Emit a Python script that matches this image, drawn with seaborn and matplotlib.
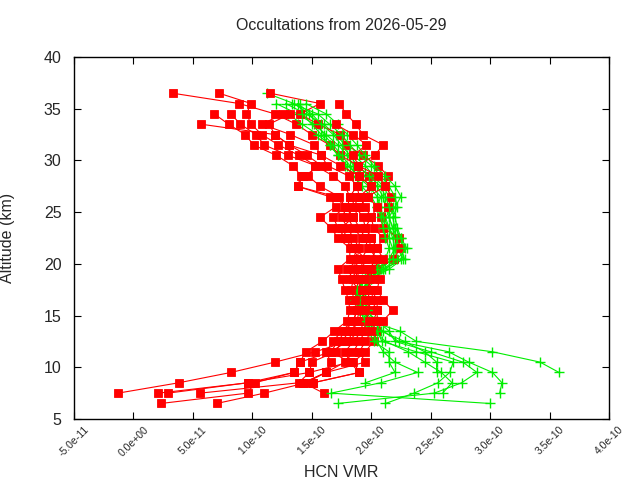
import numpy as np
import pandas as pd
import matplotlib
matplotlib.use("Agg")
import matplotlib.pyplot as plt
import seaborn as sns
from matplotlib.ticker import FixedLocator, FuncFormatter

# ---------------- data ----------------
nan = np.nan
ALTITUDES = [36.5, 35.5, 34.5, 33.5, 32.5, 31.5, 30.5, 29.5, 28.5, 27.5, 26.5,
             25.5, 24.5, 23.5, 22.5, 21.5, 20.5, 19.5, 18.5, 17.5, 16.5, 15.5,
             14.5, 13.5, 12.5, 11.5, 10.5, 9.5, 8.5, 7.5, 6.5]
SCALE = 1e-10  # values below are HCN VMR in units of 1e-10

red_profiles = [
    [0.33, 0.89, 1.19, 1.37, 1.50, 1.65, 1.74, 1.89, 1.98, 2.00, 1.97, 1.90, 1.85, 1.90, 1.95, 1.97, 1.92, 1.95, 1.98, 1.93, 1.97, 2.00, 1.95, 1.90, 1.80, 1.53, 1.19, 0.82, 0.38, -0.13, nan],
    [0.72, 0.99, 0.95, 0.99, 1.08, 1.22, 1.39, 1.53, 1.68, 1.78, 1.82, 1.80, 1.75, 1.80, 1.85, 1.90, 1.88, 1.85, 1.90, 1.87, 1.90, 1.88, 1.85, 1.78, 1.72, 1.66, 1.40, 1.35, 0.96, 0.21, nan],
    [1.15, 1.57, 1.40, 1.55, 1.74, 1.79, 1.93, 2.06, 2.14, 2.12, 2.17, 2.14, 2.08, 2.10, 2.23, 2.24, 2.19, 2.05, 2.07, 2.05, 2.10, 2.18, 2.10, 2.05, 2.02, 1.95, 1.85, 1.90, 1.51, nan, nan],
    [nan, 1.73, 1.79, 1.87, 1.93, 2.10, 2.03, 1.89, 1.90, 1.88, 1.90, 1.95, 2.00, 2.02, 2.10, 2.05, 2.00, 2.02, 1.95, 2.00, 2.05, 2.05, 2.02, 1.95, 1.90, 1.85, 1.78, 1.62, 1.43, 1.60, nan],
    [nan, nan, 0.68, 0.80, 0.94, 1.01, 1.20, 1.34, 1.41, 1.38, 1.65, 1.70, 1.57, 1.66, 1.72, 1.82, 1.82, 1.72, 1.75, 1.78, 1.81, 1.82, 1.80, 1.69, 1.59, 1.45, 1.40, 1.35, 1.02, 0.96, 0.23],
    [nan, nan, 0.82, 0.90, 1.03, 1.10, 1.30, 1.53, 1.47, 1.57, 1.73, 1.78, 1.85, 1.75, 1.80, 1.86, 1.95, 1.90, 1.82, 1.90, 1.85, 1.92, 1.90, 1.82, 1.75, 1.70, 1.50, 1.48, 1.39, 0.56, nan],
    [nan, nan, nan, 0.57, 1.19, 1.31, 1.46, 1.58, 1.43, 1.38, 1.70, 1.78, 1.68, 1.72, 1.78, 1.84, 1.90, 1.80, 1.85, 1.83, 1.86, 1.88, 1.85, 1.75, 1.68, 1.62, 1.66, 1.62, 1.45, 1.10, 0.70],
    [nan, nan, 1.26, 1.08, 1.32, 1.52, 1.58, 1.63, 1.81, 1.88, 1.82, 1.87, 1.93, 1.95, 2.00, 1.98, 2.05, 1.98, 2.02, 1.95, 2.00, 1.95, 1.98, 1.92, 1.85, 1.78, 1.82, 1.90, 1.51, nan, nan],
    [nan, nan, 1.32, 1.14, 1.19, 1.31, 1.58, 1.74, 1.90, 2.00, 1.90, 1.85, 1.80, 1.85, 1.92, 1.88, 1.85, 1.90, 1.88, 1.92, 1.95, 1.90, 1.88, 1.85, 1.80, 1.66, 1.82, 1.48, 0.96, 0.29, nan],
    [nan, nan, nan, 1.70, 1.85, 1.96, 1.85, 1.89, 2.06, 2.12, 1.97, 2.05, 2.00, 1.95, 2.00, 2.05, 2.10, 2.00, 1.95, 2.02, 2.00, 2.05, 2.05, 2.00, 1.95, 1.90, 1.95, 1.62, 1.43, nan, nan],
]

green_profiles = [
    [nan, 1.20, 1.38, 1.52, 1.62, 1.72, 1.80, 1.85, 1.95, 2.05, 2.10, 2.12, 2.15, 2.18, 2.20, 2.22, 2.27, 2.15, 2.00, 1.92, 1.90, 1.93, 1.98, 2.24, 2.38, 3.02, 3.42, 3.58, nan, nan, nan],
    [nan, 1.28, 1.45, 1.60, 1.70, 1.78, 1.85, 1.95, 2.02, 2.10, 2.15, 2.18, 2.12, 2.15, 2.20, 2.25, 2.28, 2.10, 1.95, 1.88, 1.88, 1.92, 2.00, 2.10, 2.23, 2.65, 2.82, 3.02, 3.10, 3.08, nan],
    [1.12, 1.35, 1.48, 1.55, 1.60, 1.68, 1.75, 1.82, 1.88, 1.98, 2.05, 2.08, 2.10, 2.12, 2.15, 2.18, 2.20, 2.05, 1.92, 1.90, 1.92, 1.95, 2.05, 2.15, 2.20, 2.50, 2.77, 2.89, 2.76, 2.53, 1.72],
    [nan, 1.40, 1.42, 1.50, 1.58, 1.65, 1.72, 1.80, 1.90, 2.00, 2.08, 2.05, 2.10, 2.15, 2.18, 2.20, 2.18, 2.08, 1.98, 1.92, 1.88, 1.90, 1.95, 2.05, 2.09, 2.38, 2.69, 2.66, 2.56, 2.36, 2.12],
    [nan, 1.33, 1.55, 1.65, 1.75, 1.82, 1.90, 2.00, 2.08, 2.15, 2.20, 2.22, 2.18, 2.20, 2.25, 2.28, 2.25, 2.12, 2.00, 1.95, 1.92, 1.95, 1.98, 2.02, 2.12, 2.31, 2.45, 2.59, 2.68, 2.60, nan],
    [nan, 1.45, 1.62, 1.72, 1.80, 1.88, 1.95, 2.02, 2.12, 2.20, 2.25, 2.20, 2.15, 2.18, 2.22, 2.20, 2.15, 2.05, 1.95, 1.90, 1.90, 1.92, 1.96, 2.00, 2.05, 2.10, 2.20, 2.39, 2.08, 1.66, 3.00],
    [nan, nan, 1.30, 1.42, 1.55, 1.65, 1.72, 1.78, 1.85, 1.92, 2.00, 2.05, 2.08, 2.10, 2.12, 2.15, 2.12, 2.02, 1.95, 1.88, 1.86, 1.90, 1.95, 1.98, 2.02, 2.15, 2.15, 2.20, 1.95, nan, nan],
    [nan, 1.38, 1.50, 1.58, 1.68, 1.75, 1.82, 1.88, 1.98, 2.08, 2.12, 2.15, 2.20, 2.22, 2.25, 2.30, 2.22, 2.10, 1.98, 1.95, 1.95, 1.97, 2.02, 2.08, 2.28, 2.45, 2.55, 2.55, nan, nan, nan],
]

X_TICKS = [-5e-11, 0.0, 5e-11, 1e-10, 1.5e-10, 2e-10, 2.5e-10, 3e-10, 3.5e-10, 4e-10]
Y_TICKS = [5, 10, 15, 20, 25, 30, 35, 40]
TITLE = "Occultations from 2026-05-29"
XLABEL = "HCN VMR"
YLABEL = "Altitude (km)"

# ---------------- plot ----------------
sns.set_style("ticks")
plt.rcParams["font.family"] = ["Liberation Sans", "DejaVu Sans"]

fig = plt.figure(figsize=(6.4, 4.8), dpi=100)
ax = fig.add_axes([74 / 640, 1 - 419 / 480, (609 - 74) / 640, (419 - 57) / 480])

RED = "#ff0000"
GREEN = "#00ee00"


def to_frame(vals):
    df = pd.DataFrame({"alt": ALTITUDES, "vmr": np.array(vals) * SCALE})
    return df.dropna()


n = max(len(red_profiles), len(green_profiles))
for i in range(n):
    if i < len(green_profiles):
        sns.lineplot(data=to_frame(green_profiles[i]), x="vmr", y="alt", sort=False,
                     estimator=None, color=GREEN, lw=0.8, marker="+",
                     markersize=7, markeredgewidth=1.0, markeredgecolor=GREEN,
                     ax=ax)
    if i < len(red_profiles):
        sns.lineplot(data=to_frame(red_profiles[i]), x="vmr", y="alt", sort=False,
                     estimator=None, color=RED, lw=0.8, marker="s",
                     markersize=5.2, markeredgewidth=0.6, markeredgecolor=RED,
                     markerfacecolor=RED, ax=ax)

ax.set_xlim(X_TICKS[0], X_TICKS[-1])
ax.set_ylim(Y_TICKS[0], Y_TICKS[-1])
ax.xaxis.set_major_locator(FixedLocator(X_TICKS))
ax.yaxis.set_major_locator(FixedLocator(Y_TICKS))
ax.xaxis.set_major_formatter(FuncFormatter(lambda v, p: f"{v:.1e}"))
ax.tick_params(axis="both", direction="in", length=5, width=0.8,
               top=True, right=True, color="black")
ax.tick_params(axis="y", labelsize=11.5, pad=9)
ax.tick_params(axis="x", labelsize=7.5, pad=4)
for lab in ax.get_xticklabels():
    lab.set_rotation(45)
    lab.set_ha("center")
    lab.set_va("top")

for sp in ax.spines.values():
    sp.set_color("black")
    sp.set_linewidth(1.0)

ax.set_xlabel(XLABEL, fontsize=11.5)
ax.set_ylabel(YLABEL, fontsize=11.5)
ax.xaxis.set_label_coords(0.5, (419 - 465) / 362)
ax.yaxis.set_label_coords((15 - 74) / 535, 0.5)
fig.text((74 + 609) / 2 / 640, 1 - 26 / 480, TITLE, ha="center", va="center",
         fontsize=11.5)

fig.savefig("out.png", dpi=100)
